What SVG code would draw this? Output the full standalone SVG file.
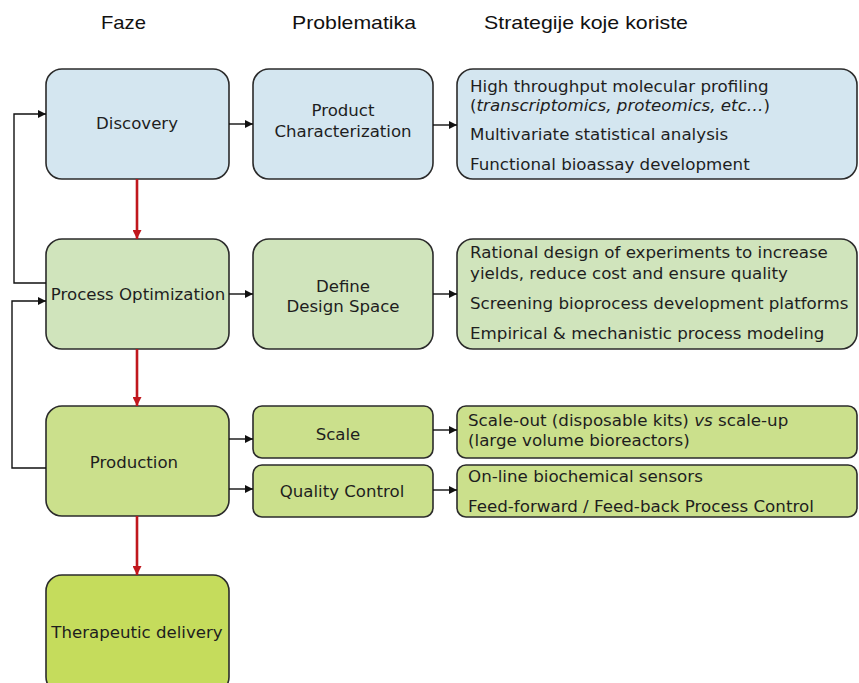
<svg xmlns="http://www.w3.org/2000/svg" width="859" height="683" viewBox="0 0 859 683">
  <style>
    .box { stroke: #2b2b2b; stroke-width: 1.6; }
    .blue { fill: #d4e6f0; }
    .g1 { fill: #d0e4bc; }
    .g2 { fill: #cbe08c; }
    .g3 { fill: #c5dc5c; }
    .lbl { font-family: "DejaVu Sans", Verdana, sans-serif; font-size: 16.6px; fill: #1e1e1e; text-anchor: middle; }
    .str { font-family: "DejaVu Sans", Verdana, sans-serif; font-size: 16.7px; fill: #1e1e1e; }
    .hdr { font-family: "Liberation Sans", Arial, sans-serif; font-size: 19px; fill: #111; }
    .blk { stroke: #111; stroke-width: 1.4; fill: none; }
    .red { stroke: #c0171d; stroke-width: 2.6; fill: none; }
  </style>
  <defs>
    <marker id="ah" viewBox="0 0 10 10" refX="10" refY="5" markerWidth="8" markerHeight="8" markerUnits="userSpaceOnUse" orient="auto">
      <path d="M0,0 L10,5 L0,10 z" fill="#111"/>
    </marker>
    <marker id="ahr" viewBox="0 0 10 10" refX="10" refY="5" markerWidth="9" markerHeight="9" markerUnits="userSpaceOnUse" orient="auto">
      <path d="M0,0 L10,5 L0,10 z" fill="#c0171d"/>
    </marker>
  </defs>

  <rect width="859" height="683" fill="#ffffff"/>

  <!-- column headings -->
  <g id="headings">
    <text class="hdr" x="101" y="29" textLength="45" lengthAdjust="spacingAndGlyphs">Faze</text>
    <text class="hdr" x="292" y="29" textLength="124" lengthAdjust="spacingAndGlyphs">Problematika</text>
    <text class="hdr" x="484" y="29" textLength="204" lengthAdjust="spacingAndGlyphs">Strategije koje koriste</text>
  </g>

  <!-- phases -->
  <g id="discovery">
    <rect class="box blue" x="46" y="69" width="183" height="110" rx="16"/>
    <text class="lbl" x="137" y="129">Discovery</text>
  </g>
  <g id="process-optimization">
    <rect class="box g1" x="46" y="239" width="183" height="110" rx="16"/>
    <text class="lbl" x="138" y="300">Process Optimization</text>
  </g>
  <g id="production">
    <rect class="box g2" x="46" y="406" width="183" height="110" rx="16"/>
    <text class="lbl" x="134" y="468">Production</text>
  </g>
  <g id="therapeutic-delivery">
    <rect class="box g3" x="46" y="575" width="183" height="118" rx="16"/>
    <text class="lbl" x="137" y="638">Therapeutic delivery</text>
  </g>

  <!-- problems -->
  <g id="product-characterization">
    <rect class="box blue" x="253" y="69" width="180" height="110" rx="16"/>
    <text class="lbl" x="343" y="116">Product</text>
    <text class="lbl" x="343" y="137">Characterization</text>
  </g>
  <g id="design-space">
    <rect class="box g1" x="253" y="239" width="180" height="110" rx="16"/>
    <text class="lbl" x="343" y="292">Define</text>
    <text class="lbl" x="343" y="312">Design Space</text>
  </g>
  <g id="scale">
    <rect class="box g2" x="253" y="406" width="180" height="52" rx="9"/>
    <text class="lbl" x="338" y="440">Scale</text>
  </g>
  <g id="quality-control">
    <rect class="box g2" x="253" y="465" width="180" height="52" rx="9"/>
    <text class="lbl" x="342" y="497">Quality Control</text>
  </g>

  <!-- strategies -->
  <g id="strategies-discovery">
    <rect class="box blue" x="457" y="69" width="400" height="110" rx="16"/>
    <text class="str" x="470" y="92">High throughput molecular profiling</text>
    <text class="str" x="470" y="111">(<tspan font-style="italic">transcriptomics, proteomics, etc…</tspan>)</text>
    <text class="str" x="470" y="140">Multivariate statistical analysis</text>
    <text class="str" x="470" y="170">Functional bioassay development</text>
  </g>
  <g id="strategies-optimization">
    <rect class="box g1" x="457" y="239" width="400" height="110" rx="16"/>
    <text class="str" x="470" y="258">Rational design of experiments to increase</text>
    <text class="str" x="470" y="279">yields, reduce cost and ensure quality</text>
    <text class="str" x="470" y="309">Screening bioprocess development platforms</text>
    <text class="str" x="470" y="339">Empirical &amp; mechanistic process modeling</text>
  </g>
  <g id="strategies-scale">
    <rect class="box g2" x="457" y="406" width="400" height="52" rx="9"/>
    <text class="str" x="468" y="426">Scale-out (disposable kits) <tspan font-style="italic">vs</tspan> scale-up</text>
    <text class="str" x="468" y="446">(large volume bioreactors)</text>
  </g>
  <g id="strategies-quality">
    <rect class="box g2" x="457" y="465" width="400" height="52" rx="9"/>
    <text class="str" x="468" y="482">On-line biochemical sensors</text>
    <text class="str" x="468" y="512">Feed-forward / Feed-back Process Control</text>
  </g>

  <!-- connectors -->
  <g id="connectors">
    <line class="blk" x1="229" y1="124" x2="253" y2="124" marker-end="url(#ah)"/>
    <line class="blk" x1="433" y1="125" x2="457" y2="125" marker-end="url(#ah)"/>
    <line class="blk" x1="229" y1="294" x2="253" y2="294" marker-end="url(#ah)"/>
    <line class="blk" x1="433" y1="294" x2="457" y2="294" marker-end="url(#ah)"/>
    <line class="blk" x1="229" y1="439" x2="253" y2="439" marker-end="url(#ah)"/>
    <line class="blk" x1="229" y1="489" x2="253" y2="489" marker-end="url(#ah)"/>
    <line class="blk" x1="433" y1="430" x2="457" y2="430" marker-end="url(#ah)"/>
    <line class="blk" x1="433" y1="490" x2="457" y2="490" marker-end="url(#ah)"/>
    <!-- feedback loops -->
    <polyline class="blk" points="46,283 14,283 14,114 46,114" marker-end="url(#ah)"/>
    <polyline class="blk" points="46,468 12,468 12,301 46,301" marker-end="url(#ah)"/>
    <!-- phase progression -->
    <line class="red" x1="137" y1="179" x2="137" y2="239" marker-end="url(#ahr)"/>
    <line class="red" x1="137" y1="349" x2="137" y2="406" marker-end="url(#ahr)"/>
    <line class="red" x1="137" y1="516" x2="137" y2="575" marker-end="url(#ahr)"/>
  </g>
</svg>
